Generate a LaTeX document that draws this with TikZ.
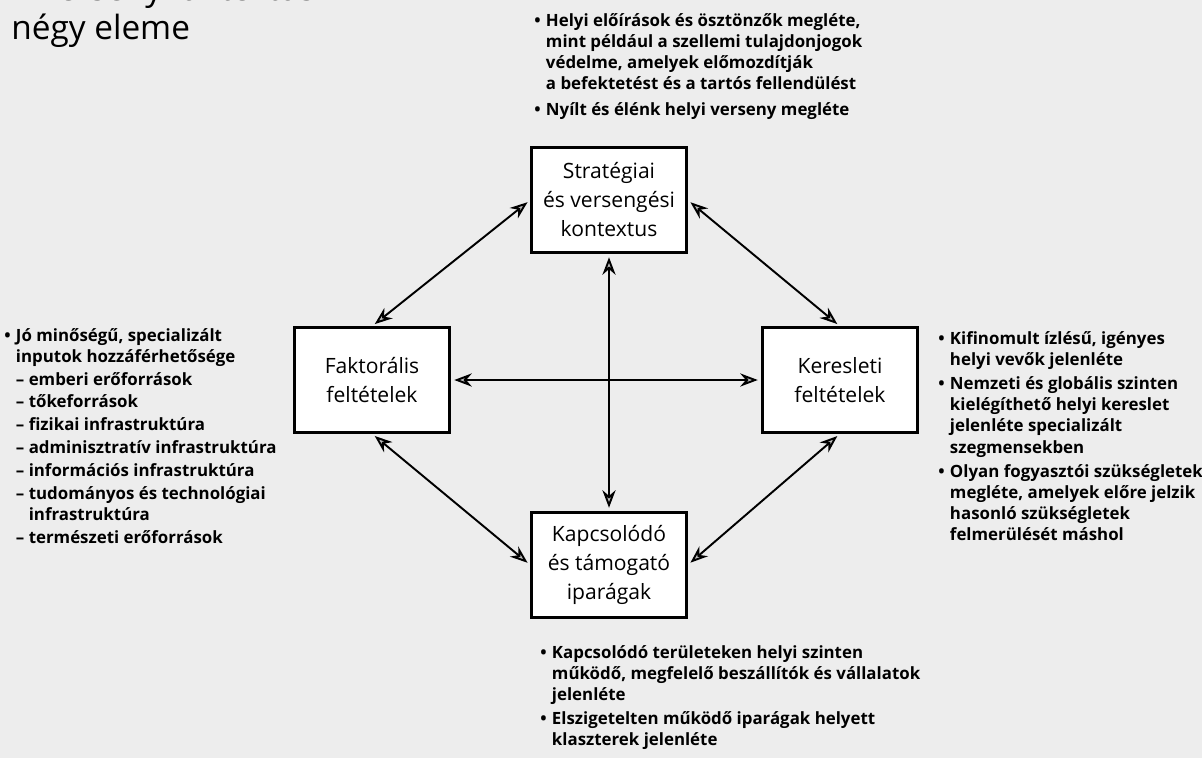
\documentclass[tikz,border=0pt]{standalone}
\usepackage{fontspec}
\setmainfont{Open Sans}
\usepackage{tikz}
\usetikzlibrary{arrows.meta, positioning, calc}

\begin{document}
\begin{tikzpicture}[x=0.02cm, y=-0.02cm,
		factor/.style={draw, line width=1.4pt, fill=white, align=center,
			minimum width=3.1cm, minimum height=2.1cm, inner sep=0pt,
			font=\fontsize{12}{16.5}\selectfont},
		note/.style={anchor=north west, inner sep=0pt,
			font=\fontsize{9.6}{12}\selectfont\bfseries},
		link/.style={{Stealth[length=10pt,width=7.5pt,fill=black!25]}-{Stealth[length=10pt,width=7.5pt,fill=black!25]},
			line width=1.1pt, shorten <=2pt, shorten >=2pt}]
	
	% Background
	\fill[black!7] (0,0) rectangle (1202,758);
	\useasboundingbox (0,0) rectangle (1202,758);
	
	% Title
	\node[anchor=south west, inner sep=0pt, align=left, font=\fontsize{19}{22}\selectfont]
		(title) at (11,48) {A versenykontextus\\négy eleme};
	
	% The four boxes
	\node[factor] (strat) at (609,200) {Stratégiai\\és versengési\\kontextus};
	\node[factor] (faktor) at (372,380) {Faktorális\\feltételek};
	\node[factor] (kereslet) at (840,380) {Keresleti\\feltételek};
	\node[factor] (kapcs) at (609,565) {Kapcsolódó\\és támogató\\iparágak};
	
	% Arrows between the boxes
	\draw[link] (faktor.north) -- (strat.west);
	\draw[link] (strat.east) -- (kereslet.north);
	\draw[link] (faktor.south) -- (kapcs.west);
	\draw[link] (kereslet.south) -- (kapcs.east);
	\draw[link] (faktor.east) -- (kereslet.west);
	\draw[link] (strat.south) -- (kapcs.north);
	
	% Notes above the top box
	\node[note] (stratnote) at (534,11) {\begin{tabular}{@{}l@{\hspace{3pt}}l@{}}
			• & Helyi előírások és ösztönzők megléte,\\
			& mint például a szellemi tulajdonjogok\\
			& védelme, amelyek előmozdítják\\
			& a befektetést és a tartós fellendülést\\[3pt]
			• & Nyílt és élénk helyi verseny megléte
		\end{tabular}};
	
	% Notes left of the left box
	\node[note] (faktornote) at (4,326) {\begin{tabular}{@{}l@{\hspace{3pt}}l@{}}
			• & Jó minőségű, specializált\\
			& inputok hozzáférhetősége\\[1pt]
			& – emberi erőforrások\\[1pt]
			& – tőkeforrások\\[1pt]
			& – fizikai infrastruktúra\\[1pt]
			& – adminisztratív infrastruktúra\\[1pt]
			& – információs infrastruktúra\\[1pt]
			& – tudományos és technológiai\\
			& \hphantom{– }infrastruktúra\\[1pt]
			& – természeti erőforrások
		\end{tabular}};
	
	% Notes right of the right box
	\node[note] (keresletnote) at (938,329) {\begin{tabular}{@{}l@{\hspace{3pt}}l@{}}
			• & Kifinomult ízlésű, igényes\\
			& helyi vevők jelenléte\\[2pt]
			• & Nemzeti és globális szinten\\
			& kielégíthető helyi kereslet\\
			& jelenléte specializált\\
			& szegmensekben\\[2pt]
			• & Olyan fogyasztói szükségletek\\
			& megléte, amelyek előre jelzik\\
			& hasonló szükségletek\\
			& felmerülését máshol
		\end{tabular}};
	
	% Notes below the bottom box
	\node[note] (kapcsnote) at (540,643) {\begin{tabular}{@{}l@{\hspace{3pt}}l@{}}
			• & Kapcsolódó területeken helyi szinten\\
			& működő, megfelelő beszállítók és vállalatok\\
			& jelenléte\\[2pt]
			• & Elszigetelten működő iparágak helyett\\
			& klaszterek jelenléte
		\end{tabular}};
	
\end{tikzpicture}
\end{document}
